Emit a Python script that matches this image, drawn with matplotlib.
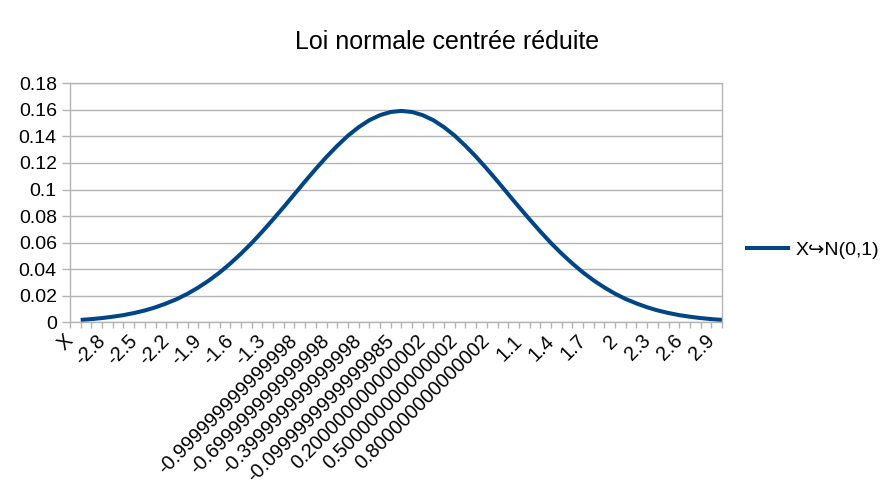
import numpy as np
import matplotlib.pyplot as plt

plt.rcParams['font.family'] = ['Liberation Sans', 'DejaVu Sans']

title = "Loi normale centrée réduite"
series_name = "X\u21aaN(0,1)"

categories = [
    "X", "-3", "-2.9", "-2.8", "-2.7", "-2.6", "-2.5", "-2.4", "-2.3", "-2.2",
    "-2.1", "-2", "-1.9", "-1.8", "-1.7", "-1.6", "-1.5", "-1.4", "-1.3", "-1.2",
    "-1.1", "-0.999999999999998", "-0.9", "-0.8", "-0.699999999999998", "-0.6",
    "-0.5", "-0.399999999999998", "-0.3", "-0.2", "-0.0999999999999985", "0",
    "0.1", "0.200000000000002", "0.3", "0.4", "0.500000000000002", "0.6", "0.7",
    "0.800000000000002", "0.9", "1", "1.1", "1.2", "1.3", "1.4", "1.5", "1.6",
    "1.7", "1.8", "1.9", "2", "2.1", "2.2", "2.3", "2.4", "2.5", "2.6", "2.7",
    "2.8", "2.9", "3",
]

# first category ("X") is the header cell, it has no value
values = [
    np.nan,
    0.0018, 0.0024, 0.0032, 0.0042, 0.0054, 0.0070, 0.0089, 0.0113, 0.0142, 0.0175,
    0.0215, 0.0262, 0.0315, 0.0375, 0.0443, 0.0517, 0.0597, 0.0684, 0.0775, 0.0869,
    0.0965, 0.1062, 0.1156, 0.1246, 0.1329, 0.1405, 0.1469, 0.1522, 0.1560, 0.1584,
    0.1592,
    0.1584, 0.1560, 0.1522, 0.1469, 0.1405, 0.1329, 0.1246, 0.1156, 0.1062, 0.0965,
    0.0869, 0.0775, 0.0684, 0.0597, 0.0517, 0.0443, 0.0375, 0.0315, 0.0262, 0.0215,
    0.0175, 0.0142, 0.0113, 0.0089, 0.0070, 0.0054, 0.0042, 0.0032, 0.0024, 0.0018,
]

y_ticks = [0, 0.02, 0.04, 0.06, 0.08, 0.1, 0.12, 0.14, 0.16, 0.18]
y_tick_labels = ["0", "0.02", "0.04", "0.06", "0.08", "0.1", "0.12", "0.14", "0.16", "0.18"]

grey = "#b3b3b3"
line_color = "#004586"

fig = plt.figure(figsize=(8.94, 5.0), dpi=100)
ax = fig.add_axes([70 / 894, 1 - 322.3 / 500, 652 / 894, 239 / 500])

x = np.arange(len(categories))
ax.plot(x, values, color=line_color, lw=2.9, label=series_name,
        solid_capstyle="butt", solid_joinstyle="round")

ax.set_xlim(0, len(categories) - 1)
ax.set_ylim(0, 0.18)

ax.set_yticks(y_ticks)
ax.set_yticklabels(y_tick_labels)
ax.yaxis.grid(True, color=grey, lw=1)
ax.set_axisbelow(True)

ax.set_xticks(x)
ax.set_xticklabels([c if i % 3 == 0 else "" for i, c in enumerate(categories)])
for lab in ax.get_xticklabels():
    lab.set_rotation(45)
    lab.set_ha("right")
    lab.set_va("center")
    lab.set_rotation_mode("anchor")

ax.tick_params(axis="x", length=4.3, width=1, color=grey, pad=7, labelsize=14.3)
ax.tick_params(axis="y", length=6, width=1, color=grey, pad=3.5, labelsize=14)

for side in ["left", "right", "bottom", "top"]:
    ax.spines[side].set_color(grey)
    ax.spines[side].set_linewidth(1)

fig.text(0.5, 1 - 42 / 500, title, ha="center", va="center", fontsize=18)

fig.legend(loc="center left", bbox_to_anchor=(745 / 894, 0.5), frameon=False,
           fontsize=14, handlelength=2.3, handletextpad=0.3,
           borderpad=0, borderaxespad=0)

fig.savefig("out.png", dpi=100)
